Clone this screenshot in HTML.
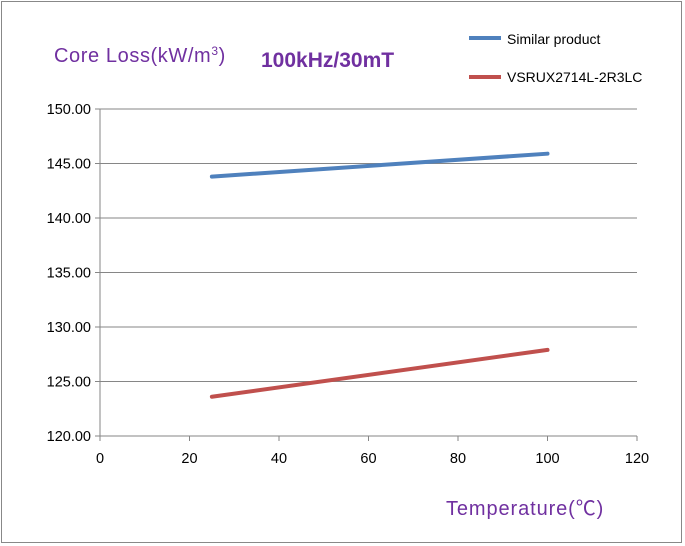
<!DOCTYPE html>
<html><head><meta charset="utf-8"><style>
html,body{margin:0;padding:0;background:#fff;}
svg{display:block;font-family:"Liberation Sans","Noto Sans CJK SC",sans-serif;}
</style></head><body>
<svg id="chart" width="685" height="546" viewBox="0 0 685 546">
<rect x="1.5" y="1.5" width="680" height="541" fill="#fff" stroke="#888"/>
<text x="54" y="62" font-size="20" letter-spacing="0.6" fill="#7030a0">Core Loss(kW/m<tspan font-size="12" dy="-7">3</tspan><tspan dy="7">)</tspan></text>
<text x="261" y="67" font-size="21" font-weight="bold" fill="#7030a0">100kHz/30mT</text>
<g>
<line x1="469" y1="38" x2="501" y2="38" stroke="#4f81bd" stroke-width="4"/>
<text x="507" y="44" font-size="14" fill="#000">Similar product</text>
<line x1="469" y1="77" x2="501" y2="77" stroke="#c0504d" stroke-width="4"/>
<text x="507" y="82" font-size="14" fill="#000">VSRUX2714L-2R3LC</text>
</g>
<g id="grid"></g><g id="axes"></g><g id="series"></g>
<text x="446" y="515" font-size="20" letter-spacing="0.9" fill="#7030a0">Temperature(℃)</text>
</svg>
<script>
const xTicks=[0,20,40,60,80,100,120];
const yTicks=[120,125,130,135,140,145,150];
const temps=[25,100];
const similarValues=[143.8,145.9];
const vsruxValues=[123.6,127.9];
const NS="http://www.w3.org/2000/svg";
const X0=100,X1=637,Y0=436,Y1=109;
const xs=v=>X0+(v-0)/(120-0)*(X1-X0);
const ys=v=>Y0-(v-120)/(150-120)*(Y0-Y1);
function mk(t,a,p){const e=document.createElementNS(NS,t);for(const k in a)e.setAttribute(k,a[k]);p.appendChild(e);return e;}
const g=document.getElementById('grid'),ax=document.getElementById('axes'),s=document.getElementById('series');
yTicks.forEach(v=>{
 if(v>120){const l=mk('line',{x1:X0,x2:X1,y1:ys(v),y2:ys(v),stroke:'#868686','stroke-width':1},g);
 
 }
 const tk=mk('line',{x1:X0-5,x2:X0,y1:ys(v),y2:ys(v),stroke:'#868686'},ax);
 
 
 const t=mk('text',{x:X0-9,y:ys(v)+5,'text-anchor':'end','font-size':14.5,fill:'#000'},ax);t.textContent=v.toFixed(2);
 
 
});
const ya=mk('line',{x1:X0,x2:X0,y1:Y1,y2:Y0,stroke:'#868686'},ax);


const xa=mk('line',{x1:X0,x2:X1,y1:Y0,y2:Y0,stroke:'#868686'},ax);


xTicks.forEach(v=>{
 const tk=mk('line',{x1:xs(v),x2:xs(v),y1:Y0,y2:Y0+5,stroke:'#868686'},ax);
 
 
 const t=mk('text',{x:xs(v),y:Y0+27,'text-anchor':'middle','font-size':14.5,fill:'#000'},ax);t.textContent=v;
 
 
});
function line(vals,color,name){
 const pts=temps.map((x,i)=>xs(x)+','+ys(vals[i])).join(' ');
 const p=mk('polyline',{points:pts,fill:'none',stroke:color,'stroke-width':4,'stroke-linecap':'round'},s);
 
 
}
line(similarValues,'#4f81bd','series-similar-product');
line(vsruxValues,'#c0504d','series-vsrux2714l');
</script>
</body></html>
